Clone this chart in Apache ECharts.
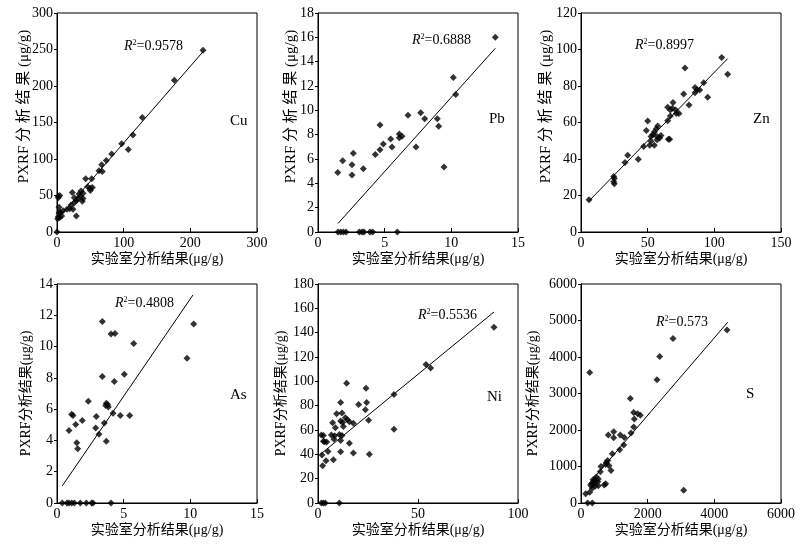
<!DOCTYPE html>
<html>
<head>
<meta charset="utf-8">
<script src="https://cdn.jsdelivr.net/npm/echarts@6/dist/echarts.min.js"></script>
<style>
  html, body { margin: 0; padding: 0; background: #fff; }
  #chart { width: 803px; height: 546px; }
</style>
</head>
<body>
<div id="chart"></div>
<script>
// 实验室分析结果 (x) vs PXRF分析结果 (y), μg/g
const cuPoints = [[219,249],[176,208],[128,157],[114,133],[97,121],[107,113],[82,107],[74,98],[67,92],[63,84],
  [68,83],[43,73],[52,73],[46,62],[50,60],[53,61],[50,57],[36,56],[39,53],[33,52],[39,46],[23,54],[26,47],[31,45],
  [29,43],[26,40],[21,37],[15,31],[19,32],[24,31],[9,29],[5,27],[3,26],[29,22],[2,49],[4,50],[2,47],[3,34],[2,21],
  [1,18],[4,20],[0,0],[7,22],[35,49],[38,42]];
const pbPoints = [[13.3,16.0],[10.15,12.7],[10.33,11.3],[7.7,9.8],[8.0,9.3],[6.75,9.6],[8.95,9.3],[9.05,8.7],
  [4.65,8.8],[6.1,8.05],[6.3,7.86],[6.1,7.75],[5.45,7.64],[4.9,7.23],[4.65,6.77],[5.55,6.99],[7.35,6.99],[4.3,6.36],
  [2.65,6.47],[1.85,5.86],[2.55,5.53],[3.4,5.2],[1.48,4.9],[2.55,4.68],[9.45,5.34],
  [1.5,0],[1.7,0],[1.9,0],[2.1,0],[3.1,0],[3.3,0],[3.45,0],[3.9,0],[4.1,0],[5.95,0]];
const znPoints = [[105.5,95.6],[110,86.5],[78,89.8],[95,73.8],[92,81.8],[89,77.8],[85.5,79.2],[85.5,76.3],[87,78],
  [77,75.6],[81,69.6],[69,70.9],[65,68.3],[67,66.8],[68.5,67.8],[71,66.8],[71.5,65],[73.5,65],[67,63.6],[65,61],
  [65.5,50.8],[66.5,50.8],[50,60.8],[49,55.6],[57.5,58.1],[56.5,56.6],[55,54.8],[54,53.4],[52.5,52.3],[57,52.3],
  [59,51.5],[57,50.5],[55,47.5],[52.5,49.7],[51.5,47.5],[47,46.8],[43,39.9],[35,42.1],[33,38.1],[24.5,30.4],
  [25,29.3],[24.5,27.5],[25,26.4],[6,17.7],[60,52.9]];
const asPoints = [[10.25,11.45],[9.75,9.26],[3.4,11.6],[4.05,10.8],[4.35,10.83],[5.75,10.2],[3.4,8.09],[5.05,8.23],
  [4.3,7.77],[2.35,6.51],[3.7,6.38],[3.8,6.28],[3.65,6.23],[3.85,6.13],[1.1,5.68],[1.2,5.6],[1.9,5.28],[1.4,5.02],
  [2.95,5.53],[4.2,5.74],[4.75,5.6],[5.45,5.6],[3.55,5.11],[2.9,4.79],[0.9,4.64],[3.15,4.4],[3.7,3.94],[1.48,3.85],
  [1.55,3.47],[0.4,0],[0.75,0],[0.9,0],[1.1,0],[1.3,0],[1.75,0],[2.2,0],[2.6,0],[2.7,0],[4.05,0]];
const niPoints = [[88,144.4],[54,113.8],[56.3,111],[38,89.2],[38,60.7],[14.3,98.5],[24,94.4],[24.3,82.6],[23.7,76.6],
  [20.3,81],[25.3,68.1],[11.3,82.6],[12,73.9],[9.3,73.3],[13.7,70],[14.7,68.4],[15.7,66.7],[12.3,66.2],[11.3,67.3],
  [17.7,65.6],[7.3,65.9],[12.7,62.9],[8.7,61.8],[6.7,55.8],[8.3,55.3],[10.7,56.3],[12,55.5],[8,52.5],[11.3,51.4],
  [15.7,49.2],[1.7,55.8],[2.7,55.5],[3.3,50.3],[4.3,50.1],[2.7,50.8],[5,42.4],[11.3,42.1],[17.7,41],[25.7,40],
  [2,39.4],[4,34.7],[7.7,35.6],[2.3,30.6],[1.7,0],[2.7,0],[3.7,0],[10.7,0]];
const sPoints = [[4380,4741],[2760,4504],[2360,4012],[2280,3374],[260,3574],[3080,346],[1480,2863],[1580,2480],
  [1700,2443],[1780,2407],[1600,2298],[1580,2079],[1500,1915],[980,1951],[980,1787],[820,1860],[1180,1860],
  [1300,1796],[1280,1587],[1160,1459],[940,1349],[900,893],[760,1112],[800,1167],[740,1058],[840,1021],[600,1003],
  [580,857],[740,529],[700,492],[460,711],[520,656],[420,620],[360,638],[400,547],[500,584],[320,529],[420,456],
  [340,401],[520,474],[300,474],[260,292],[140,255],[200,0],[340,0]];

// fitted line end points
const cuFit = [[0,17],[220,248]];
const pbFit = [[1.5,0.7],[13.3,15.1]];
const znFit = [[6,17],[110,95]];
const asFit = [[0.4,1.1],[10.2,13.3]];
const niFit = [[1.2,40],[88,157]];
const sFit = [[200,490],[4400,4950]];

const elements = ['Cu','Pb','Zn','As','Ni','S'];
const r2Labels = ['0.9578','0.6888','0.8997','0.4808','0.5536','0.573'];

// axis ranges
const xMax = [300, 15, 150, 15, 100, 6000];
const xStep = [100, 5, 50, 5, 50, 2000];
const yMax = [300, 18, 120, 14, 180, 6000];
const yStep = [50, 2, 20, 2, 20, 1000];

const allPoints = [cuPoints, pbPoints, znPoints, asPoints, niPoints, sPoints];
const allFits = [cuFit, pbFit, znFit, asFit, niFit, sFit];

const FONT = "'Liberation Serif', 'Noto Sans CJK SC', serif";
const lefts = [57, 318, 581];
const tops = [13, 284];
const W = 200, H = 219;
const yNameGap = [25, 19, 27, 24, 30, 41];
const r2Pos = [[124, 48], [412, 42], [635, 47], [115, 305], [418, 317], [656, 324]];
const elPos = [[238, 123], [497, 121], [761, 121], [238, 397], [495, 399], [754, 396]];

const chart = echarts.init(document.getElementById('chart'));

const grid = [], xAxis = [], yAxis = [], series = [], graphic = [];
elements.forEach((el, i) => {
  const top = i < 3;
  grid.push({
    left: lefts[i % 3], top: tops[top ? 0 : 1], width: W, height: H,
    show: true, borderColor: '#000', borderWidth: 1
  });
  const axisCommon = {
    gridIndex: i, min: 0,
    axisLine: { show: true, lineStyle: { color: '#000', width: 1 } },
    splitLine: { show: false },
    axisLabel: { color: '#000', fontFamily: FONT, fontSize: 14, formatter: v => String(v) },
    nameLocation: 'middle',
    nameMoveOverlap: false
  };
  xAxis.push(Object.assign({}, axisCommon, {
    type: 'value', max: xMax[i], interval: xStep[i],
    axisTick: { show: true, inside: true, length: 4, lineStyle: { color: '#000' } },
    axisLabel: Object.assign({}, axisCommon.axisLabel, { margin: 4 }),
    name: '实验室分析结果(μg/g)', nameGap: 20,
    nameTextStyle: { color: '#000', fontFamily: FONT, fontSize: 14 }
  }));
  yAxis.push(Object.assign({}, axisCommon, {
    type: 'value', max: yMax[i], interval: yStep[i],
    axisTick: { show: true, inside: false, length: 3, lineStyle: { color: '#000' } },
    axisLabel: Object.assign({}, axisCommon.axisLabel, { margin: 4 }),
    name: top ? 'PXRF\u2005分\u2005析\u2005结\u2005果\u2005(μg/g)' : 'PXRF分析结果(μg/g)',
    nameGap: yNameGap[i],
    nameTextStyle: {
      color: '#000', fontFamily: FONT, fontSize: top ? 15 : 14,
      padding: top ? [0, 0, 0, 32] : 0
    }
  }));
  series.push({
    type: 'scatter', xAxisIndex: i, yAxisIndex: i,
    symbol: 'diamond', symbolSize: 7,
    itemStyle: { color: '#000' },
    data: allPoints[i]
  });
  series.push({
    type: 'line', xAxisIndex: i, yAxisIndex: i,
    symbol: 'none', lineStyle: { color: '#000', width: 1 },
    data: allFits[i]
  });
  graphic.push({
    type: 'text', left: r2Pos[i][0], top: r2Pos[i][1] - 9,
    style: {
      text: '{i|R}{s|2}=' + r2Labels[i],
      font: '14px ' + FONT, fill: '#000',
      rich: {
        i: { fontStyle: 'italic', fontFamily: FONT, fontSize: 14 },
        s: { fontFamily: FONT, fontSize: 8, verticalAlign: 'top', padding: [0, 0, 6, 0] }
      }
    }
  });
  graphic.push({
    type: 'text', left: elPos[i][0] - 8, top: elPos[i][1] - 9,
    style: { text: el, font: '15px ' + FONT, fill: '#000' }
  });
});

chart.setOption({
  backgroundColor: '#fff',
  animation: false,
  grid, xAxis, yAxis, series, graphic
});
</script>
</body>
</html>
